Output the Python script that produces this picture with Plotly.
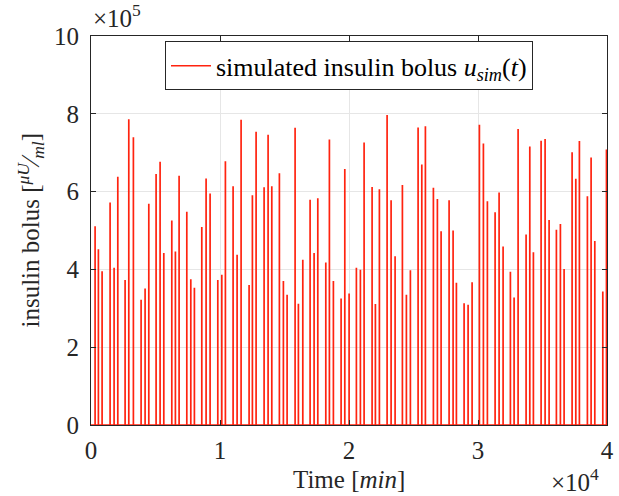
import plotly.graph_objects as go

# bolus times [min]
bolus_time = [310, 566, 853, 1473, 1783, 2070, 2636, 2922, 3279, 3876, 4186, 4473,
              5039, 5349, 5636, 6256, 6535, 6822, 7419, 7729, 8008, 8581, 8915, 9225,
              9822, 10132, 10411, 11008, 11318, 11628, 12248, 12504, 12791, 13411, 13721, 14008,
              14597, 14907, 15194, 15814, 16070, 16411, 16977, 17287, 17574, 18194, 18473, 18783,
              19380, 19667, 20000, 20566, 20876, 21163, 21783, 22039, 22349, 22946, 23256, 23566,
              24132, 24442, 24752, 25349, 25636, 25915, 26535, 26845, 27132, 27752, 28062, 28318,
              28915, 29225, 29535, 30101, 30411, 30721, 31318, 31628, 31938, 32504, 32791, 33101,
              33721, 34008, 34287, 34884, 35194, 35504, 36070, 36380, 36667, 37287, 37574, 37853,
              38473, 38760, 39047, 39667, 39950]
# bolus amplitude [x1e5 muU/ml]
bolus_amp = [5.09, 4.50, 3.93, 5.70, 4.02, 6.36, 3.71, 7.84, 7.38, 3.20, 3.49, 5.67,
             6.43, 6.75, 4.40, 5.24, 4.44, 6.39, 5.46, 3.73, 3.51, 5.07, 6.32, 5.93,
             3.71, 3.84, 6.76, 6.12, 4.36, 7.83, 3.58, 5.89, 7.52, 6.09, 7.44, 6.12,
             6.45, 3.68, 3.33, 7.62, 3.10, 4.23, 5.77, 4.40, 5.81, 4.16, 7.32, 3.68,
             3.23, 6.56, 3.36, 4.02, 3.97, 7.24, 6.10, 3.09, 6.04, 7.95, 5.76, 4.32,
             6.15, 3.33, 3.96, 7.63, 6.68, 7.66, 6.08, 5.79, 4.96, 5.76, 4.98, 3.64,
             3.11, 3.07, 3.65, 7.70, 7.22, 5.73, 5.45, 5.96, 4.57, 3.92, 3.26, 7.59,
             4.88, 7.14, 4.42, 7.29, 7.33, 5.25, 5.00, 5.15, 3.99, 6.99, 6.31, 7.28,
             5.86, 6.86, 4.71, 3.41, 7.06]
scale = 1e5
pulse_width = 15  # min

x_tick_vals = [0, 10000, 20000, 30000, 40000]
x_tick_text = ["0", "1", "2", "3", "4"]
y_tick_vals = [0, 2e5, 4e5, 6e5, 8e5, 10e5]
y_tick_text = ["0", "2", "4", "6", "8", "10"]

xs, ys = [0], [0]
for t, a in zip(bolus_time, bolus_amp):
    xs += [t, t, t + pulse_width, t + pulse_width]
    ys += [0, a * scale, a * scale, 0]
xs.append(40000)
ys.append(0)

FONT = "Liberation Serif"
DARK = "#262626"
FS = 25

fig = go.Figure()
fig.add_trace(go.Scatter(
    x=xs, y=ys, mode="lines",
    line=dict(color="rgb(255,35,15)", width=1.5),
    name="simulated insulin bolus <i>u<sub>sim</sub></i>(<i>t</i>)",
    showlegend=True,
))

axis_common = dict(
    showline=True, linecolor=DARK, linewidth=1, mirror="ticks",
    ticks="inside", ticklen=5, tickcolor=DARK,
    showgrid=True, gridcolor="#e6e6e6", gridwidth=1,
    zeroline=False, automargin=False,
    tickfont=dict(family=FONT, size=FS, color=DARK),
)

fig.update_layout(
    width=619, height=496,
    margin=dict(l=91, r=12, t=36, b=71),
    paper_bgcolor="white", plot_bgcolor="white",
    font=dict(family=FONT, color=DARK),
    xaxis=dict(range=[0, 40000], tickvals=x_tick_vals, ticktext=x_tick_text,
               ticklabelstandoff=3, **axis_common),
    yaxis=dict(range=[0, 1e6], tickvals=y_tick_vals, ticktext=y_tick_text,
               ticklabelstandoff=6, **axis_common),
    legend=dict(x=0.5, xanchor="center", y=0.986, yanchor="top",
                bgcolor="white", bordercolor=DARK, borderwidth=1,
                font=dict(family=FONT, size=26, color="black"),
                itemwidth=40),
    showlegend=True,
    annotations=[
        dict(text="×10<sup>5</sup>", xref="paper", yref="paper", x=0.0, y=1.0,
             xanchor="left", yanchor="bottom", showarrow=False, yshift=2,
             font=dict(family=FONT, size=FS, color=DARK)),
        dict(text="×10<sup>4</sup>", xref="paper", yref="paper", x=1.0, y=0.0,
             xanchor="right", yanchor="top", showarrow=False, yshift=-37, xshift=-6,
             font=dict(family=FONT, size=FS, color=DARK)),
        dict(text="Time [<i>min</i>]", xref="paper", yref="paper", x=0.5, y=0.0,
             xanchor="center", yanchor="top", showarrow=False, yshift=-39,
             font=dict(family=FONT, size=FS, color=DARK)),
        dict(text="insulin bolus [<sup><i>μU</i></sup>⁄<sub><i>ml</i></sub>]",
             xref="paper", yref="paper", x=0.0, y=0.5, textangle=-90,
             xanchor="center", yanchor="middle", showarrow=False, xshift=-61,
             font=dict(family=FONT, size=FS, color=DARK)),
    ],
)

fig.write_html("out.html")
